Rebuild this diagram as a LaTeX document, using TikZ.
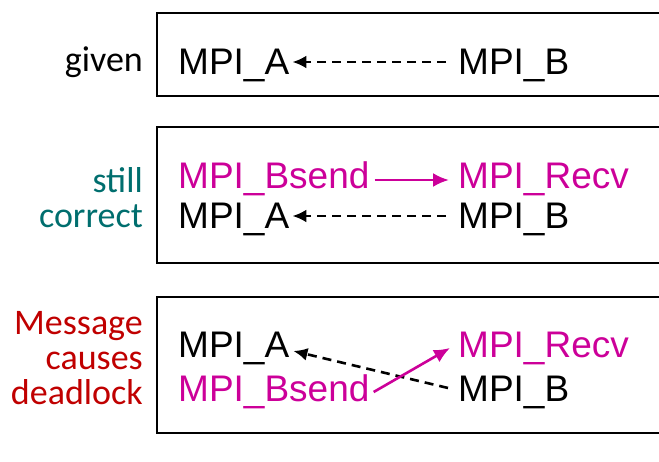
\documentclass[tikz,border=0pt]{standalone}
\usepackage{fontspec}
\setmainfont{Liberation Sans}
\newfontfamily\lblfont{Carlito}
\usetikzlibrary{arrows.meta}
\definecolor{mag}{RGB}{204,0,153}
\definecolor{tealc}{RGB}{0,110,110}
\definecolor{redc}{RGB}{192,0,0}
\begin{document}
\begin{tikzpicture}[x=1pt,y=-1pt,
  box/.style={draw=black,line width=1.6pt},
  mpi/.style={anchor=base west,inner sep=0pt,font=\fontsize{37}{40}\selectfont},
  lbl/.style={anchor=east,inner sep=0pt,align=right,font=\lblfont\fontsize{36}{35}\selectfont},
  darr/.style={dashed,dash pattern=on 9pt off 6pt,line width=2.6pt,-{Latex[length=14pt,width=13pt]}},
  marr/.style={mag,line width=2.6pt,-{Latex[length=16pt,width=14pt]}}]
\useasboundingbox (0,0) rectangle (659,462);
\draw[box] (157,13) -- (665,13) -- (665,96) -- (157,96) -- cycle;
\draw[box] (157,127) -- (665,127) -- (665,263) -- (157,263) -- cycle;
\draw[box] (157,297) -- (665,297) -- (665,433) -- (157,433) -- cycle;
% labels
\node[lbl] (g) at (143,62) {given};
\node[lbl,text=tealc] (sc) at (143,198) {still\\correct};
\node[lbl,text=redc] (md) at (143,358) {Message\\causes\\deadlock};
% box 1
\node[mpi] (a1) at (178,75) {MPI\_A};
\node[mpi] (b1) at (458,75) {MPI\_B};
\draw[darr] ([xshift=-12pt,yshift=13pt]b1.base west) -- ([xshift=3pt,yshift=13pt]a1.base east);
% box 2
\node[mpi,text=mag] (s2) at (178,189) {MPI\_Bsend};
\node[mpi,text=mag] (r2) at (458,189) {MPI\_Recv};
\node[mpi] (a2) at (178,229) {MPI\_A};
\node[mpi] (b2) at (458,229) {MPI\_B};
\draw[marr] ([xshift=5pt,yshift=9pt]s2.base east) -- ([xshift=-9pt,yshift=9pt]r2.base west);
\draw[darr] ([xshift=-12pt,yshift=13pt]b2.base west) -- ([xshift=3pt,yshift=13pt]a2.base east);
% box 3
\node[mpi] (a3) at (178,358) {MPI\_A};
\node[mpi,text=mag] (r3) at (458,358) {MPI\_Recv};
\node[mpi,text=mag] (s3) at (178,402) {MPI\_Bsend};
\node[mpi] (b3) at (458,402) {MPI\_B};
\draw[darr] ([xshift=-10pt,yshift=14pt]b3.base west) -- ([xshift=4pt,yshift=7pt]a3.base east);
\draw[marr] ([xshift=4pt,yshift=10pt]s3.base east) -- ([xshift=-8pt,yshift=10pt]r3.base west);
\end{tikzpicture}
\end{document}
